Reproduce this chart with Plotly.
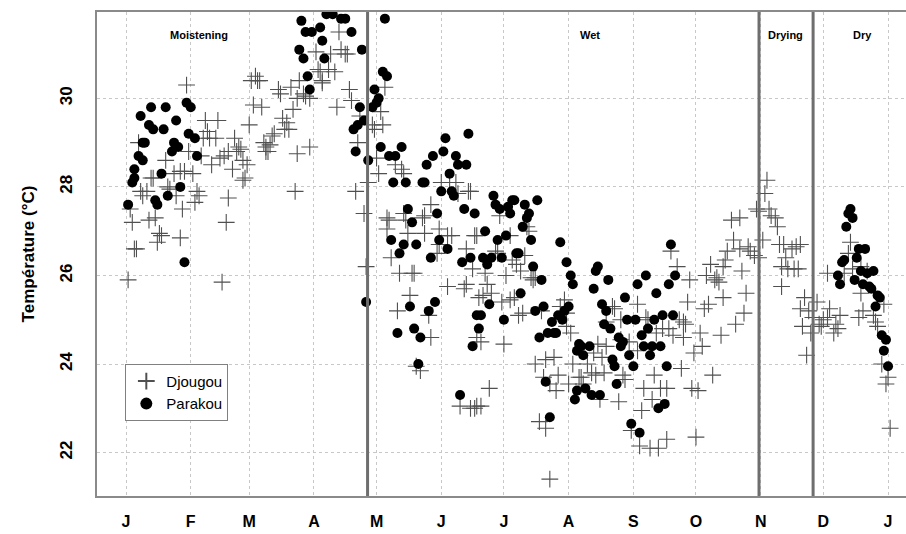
import plotly.graph_objects as go

# day of year (0 = 1 January) and daily temperature (degC)
djougou_day = [
    1, 2, 3, 4, 5, 6, 7, 8, 10, 11, 12, 13, 14, 15, 16, 17, 19, 20, 21, 23, 24, 26, 26, 27, 28,
    29, 30, 32, 33, 34, 35, 36, 37, 38, 39, 40, 41, 43, 44, 45, 46, 47, 48, 49, 49, 51, 52, 53,
    54, 55, 56, 56, 57, 58, 59, 60, 61, 62, 63, 64, 65, 66, 67, 67, 68, 69, 70, 71, 73, 74, 75,
    76, 77, 78, 79, 80, 81, 82, 82, 83, 85, 86, 88, 88, 91, 92, 93, 94, 94, 97, 98, 100, 101,
    102, 103, 105, 106, 107, 108, 110, 111, 112, 114, 115, 116, 118, 119, 120, 121, 122, 123,
    124, 125, 125, 126, 127, 129, 130, 131, 132, 133, 133, 134, 135, 136, 137, 138, 139, 141,
    142, 143, 143, 145, 146, 146, 149, 150, 150, 151, 154, 154, 155, 156, 158, 159, 160, 162,
    163, 163, 164, 165, 165, 166, 167, 167, 168, 168, 168, 169, 170, 170, 171, 172, 173, 174,
    175, 177, 178, 179, 180, 181, 182, 184, 184, 185, 186, 187, 188, 189, 190, 191, 192, 193,
    194, 195, 196, 196, 198, 199, 200, 201, 201, 203, 203, 205, 206, 207, 208, 210, 211, 211,
    212, 213, 214, 217, 218, 219, 221, 223, 224, 225, 226, 227, 228, 229, 230, 230, 233, 234,
    236, 237, 237, 238, 239, 241, 242, 245, 245, 246, 247, 248, 249, 250, 251, 252, 253, 254,
    255, 256, 257, 259, 259, 260, 261, 262, 264, 265, 266, 267, 267, 268, 269, 270, 271, 272,
    273, 274, 275, 276, 277, 278, 279, 280, 281, 282, 283, 284, 285, 286, 286, 287, 288, 290,
    291, 292, 294, 294, 295, 296, 297, 298, 299, 301, 302, 303, 303, 305, 306, 307, 308, 309,
    311, 312, 313, 314, 314, 315, 316, 317, 319, 320, 321, 322, 323, 323, 324, 325, 326, 327,
    328, 329, 331, 332, 333, 334, 336, 336, 337, 339, 340, 341, 342, 344, 346, 347, 348, 351,
    352, 352, 353, 355, 358, 359, 360, 362, 363, 364, 365, 366,
]
djougou_temp = [
    25.9, 27.5, 27.2, 26.6, 26.6, 29.0, 27.9, 27.8, 27.9, 27.25, 28.2, 28.2, 27.3, 26.75, 26.95,
    26.9, 28.6, 28.0, 27.95, 28.3, 27.8, 28.35, 26.85, 27.5, 28.35,
    30.3, 28.8, 28.3, 27.65, 27.9, 27.8, 28.7, 29.1, 29.5, 29.25, 29.1, 28.5, 29.1, 29.5, 28.65,
    25.85, 28.7, 27.2, 28.8, 27.75, 28.4, 29.1, 28.8,
    28.9, 28.85, 28.6, 28.15, 28.2, 28.5, 29.4, 30.4, 29.85, 30.5, 30.4, 30.4, 29.8, 29.0, 28.9,
    28.8, 28.8, 28.95, 29.15, 29.2, 30.2, 30.1, 29.55,
    29.3, 29.45, 29.3, 30.25, 29.75, 27.9, 28.75, 30.0, 30.4, 30.1, 30.05, 30.0, 28.9, 31.05,
    30.65, 30.6, 30.4, 30.35, 30.65, 31.0, 30.6, 29.8,
    31.5, 31.1, 31.0, 31.0, 30.2, 29.95, 27.9, 29.0, 29.6, 27.4, 26.2, 28.1, 29.4, 29.3, 28.65,
    28.3, 29.7, 29.4,
    30.25, 27.3, 27.05, 27.25, 26.4, 28.5, 25.2, 26.05, 28.4, 28.3, 27.4, 27.25, 26.95, 25.55,
    26.05, 26.05, 23.95, 23.85,
    27.3, 27.35, 26.95, 25.1, 27.6, 24.6, 26.5, 26.7, 27.05, 28.1, 26.9, 25.75, 28.1, 26.9,
    28.1, 27.85, 23.05, 25.7,
    25.8, 26.6, 27.9, 27.9, 23.0, 26.15, 26.9, 23.0, 26.9, 24.6, 23.05, 25.5, 24.5, 23.05, 25.55,
    26.05, 25.8, 23.45,
    25.6, 26.55, 26.5, 27.35, 25.4, 24.45, 26.0, 26.9, 25.45, 26.35, 25.5, 26.25, 25.1, 26.1,
    25.15, 26.45, 27.1, 27.0,
    25.95, 25.9, 25.95, 24.0, 22.7, 25.2, 23.7, 24.1, 22.55, 23.55, 21.4, 24.15, 23.4, 23.75,
    25.3, 25.45, 25.15, 24.85,
    23.55, 24.7, 24.0, 23.7, 23.7, 23.55, 24.0, 23.8, 24.25, 23.75, 24.45, 23.2, 24.15, 23.8,
    24.95, 24.4, 25.3, 25.25,
    23.15, 25.0, 24.55, 23.75, 23.65, 24.5, 22.5, 25.35, 24.3, 22.15, 22.95, 23.45, 25.05, 25.0,
    22.1, 23.2, 23.75, 24.7,
    22.1, 23.45, 24.8, 23.45, 22.3, 24.8, 26.55, 24.65, 26.2, 25.0, 23.9, 24.95, 24.6, 24.9,
    25.4, 25.9, 23.45, 24.25,
    22.35, 23.4, 24.7, 24.4, 25.25, 26.0, 25.35, 26.25, 23.75, 25.9, 25.95, 25.85, 24.65, 26.2,
    25.5, 26.35, 26.55, 27.25,
    26.8, 24.9, 27.3, 26.6, 26.1, 25.15, 25.6, 26.65, 26.55, 26.45, 27.5, 27.45, 26.4, 26.8,
    27.85, 28.15, 27.5, 27.35,
    27.3, 27.1, 26.7, 26.2, 25.75, 26.7, 26.4, 26.15, 26.6, 26.15, 26.65, 26.15, 26.7, 25.25,
    24.85, 25.5, 24.2, 25.2,
    24.7, 25.05, 25.4, 24.9, 24.85, 25.0, 25.05, 26.05, 25.25, 24.7, 24.9, 24.8, 25.1, 26.05,
    26.5, 26.75, 26.15, 25.05,
    25.6, 26.2, 25.2, 26.1, 25.1, 24.95, 24.85, 24.0, 25.35, 23.55, 23.7, 22.55,
]

parakou_day = [
    1, 3, 4, 4, 6, 7, 8, 8, 9, 11, 12, 13, 14, 15, 17, 18, 19, 20, 22, 23, 24, 25, 26, 28, 29,
    30, 31, 33, 34,
    83, 84, 85, 86, 87, 88, 89, 93, 94, 95, 96, 99, 103, 105, 108, 109, 110, 111, 112, 113, 114,
    115, 116, 118, 119, 120, 121, 122, 123, 124, 125, 126, 127, 128, 129, 130, 131, 132, 133,
    134, 135, 136, 137, 138, 139, 140, 141, 142, 143, 144, 145, 146, 147, 148, 149, 150, 151,
    152, 153, 154, 155, 156, 157, 158, 159, 160, 161, 162, 163, 164, 165, 166, 167, 168, 169,
    170, 171, 172, 173, 174, 175, 176, 177, 178, 179, 180, 181, 182, 183, 184, 185, 186, 187,
    188, 189, 190, 191, 192, 193, 194, 195, 196, 197, 198, 199, 200, 201, 202, 203, 204, 205,
    206, 207, 208, 209, 210, 211, 212, 213, 214, 215, 216, 216, 217, 218, 219, 220, 222, 223,
    224, 225, 226, 227, 228, 229, 230, 231, 232, 233, 234, 235, 236, 237, 238, 239, 240, 241,
    242, 243, 244, 245, 246, 247, 248, 249, 250, 251, 252, 253, 254, 255, 256, 257, 258, 259,
    260, 261, 262, 263,
    341, 342, 343, 344, 345, 346, 347, 348, 349, 350, 351, 352, 353, 354, 355, 356, 357, 358,
    359, 360, 361, 362, 363, 364, 365,
]
parakou_temp = [
    27.6, 28.1, 28.4, 28.2, 28.7, 29.6, 29.0, 28.6, 29.0, 29.4, 29.8, 29.3, 27.7, 27.6, 28.3,
    29.3, 29.8, 27.8, 28.8, 29.0, 29.5, 28.9, 28.0, 26.3, 29.9, 29.2, 29.8, 29.1, 28.7,
    31.1, 31.75, 30.9, 31.5, 30.5, 30.2, 31.5, 31.6, 31.3, 30.9, 31.9, 31.9, 31.8, 31.8, 31.5,
    29.3, 28.8, 29.4, 29.8, 31.1, 29.5,
    25.4, 28.6, 29.8, 30.2, 29.9, 30.0, 28.9, 30.6, 31.8, 30.5, 28.7, 26.8, 28.1, 28.7, 24.7,
    26.5, 28.9, 26.7,
    28.1, 27.5, 25.3, 27.2, 24.8, 26.7, 24.0, 24.6, 28.1, 28.1, 28.5, 25.2, 26.4, 28.7, 25.4,
    27.4, 26.8, 27.9,
    28.8, 29.1, 26.6, 28.3, 27.9, 27.8, 28.7, 28.5, 23.3, 26.3, 27.5, 28.5, 29.2, 26.4, 24.4,
    27.4, 25.1, 24.8,
    25.1, 26.4, 27.0, 26.25, 25.35, 26.4, 27.8, 27.6, 26.8, 27.5, 26.4, 25.0, 26.9, 27.55, 27.4,
    27.7, 27.7, 26.5,
    26.5, 25.6, 27.1, 27.6, 27.3, 27.4, 26.8, 26.2, 25.2, 27.7, 24.6, 25.9, 25.3, 23.6, 24.7,
    22.8, 24.95, 24.7,
    24.7, 25.1, 26.75, 25.0, 25.2, 26.3, 25.3, 26.0, 25.8, 23.2, 23.4, 24.3, 24.45, 24.4, 24.2,
    23.45, 24.4, 23.3,
    25.7, 26.1, 26.2, 23.3, 25.35, 24.9, 25.2, 25.9, 24.8, 24.1, 23.95, 23.55, 24.6, 24.4, 24.5,
    25.5, 25.0, 24.2,
    22.65, 23.95, 25.0, 25.8, 22.45, 24.65, 24.4, 26.0, 24.8, 24.2, 24.4, 25.0, 25.6, 23.0, 24.4,
    25.1, 23.1, 23.95,
    25.8, 26.7, 25.1, 26.0,
    26.0, 25.8, 26.3, 26.35, 27.1, 27.4, 27.5, 27.3, 25.9, 26.4, 26.6, 26.1, 25.8, 26.6, 26.05,
    25.75, 25.7, 26.1, 25.3, 25.55, 25.5, 24.65, 24.3, 24.55, 23.95,
]

month_labels = ["J", "F", "M", "A", "M", "J", "J", "A", "S", "O", "N", "D", "J"]
month_start = [0, 31, 59, 90, 120, 151, 181, 212, 243, 273, 304, 334, 365]

season_names = ["Moistening", "Wet", "Drying", "Dry"]
season_label_day = [35, 222, 316, 353]
season_bounds = [115.7, 303.2, 329.1]

font = "Arial, Liberation Sans, sans-serif"

fig = go.Figure()

fig.add_trace(go.Scatter(
    x=djougou_day, y=djougou_temp, mode="markers", name="Djougou",
    marker=dict(symbol="cross-thin", size=12, color="#505050",
                line=dict(width=1.1, color="#505050")),
))
fig.add_trace(go.Scatter(
    x=parakou_day, y=parakou_temp, mode="markers", name="Parakou",
    marker=dict(symbol="circle", size=10, color="black"),
))

# season boundaries
for b in season_bounds:
    fig.add_shape(type="line", x0=b, x1=b, xref="x", y0=0, y1=1, yref="paper",
                  line=dict(color="#6e6e6e", width=3))

for name, d in zip(season_names, season_label_day):
    fig.add_annotation(x=d, y=31.42, text=name, showarrow=False,
                       font=dict(family=font, size=11, color="black", weight="bold"))

fig.update_layout(
    width=906, height=534,
    margin=dict(l=97, r=0, t=12, b=38),
    paper_bgcolor="white", plot_bgcolor="white",
    font=dict(family=font, color="black"),
    showlegend=True,
    legend=dict(x=0.035, y=0.273, xanchor="left", yanchor="top",
                bgcolor="white", bordercolor="#808080", borderwidth=1,
                font=dict(size=15), tracegroupgap=0, itemsizing="constant"),
)

fig.update_xaxes(
    range=[-13.9, 373.6], tickvals=month_start, ticktext=month_labels,
    tickfont=dict(size=16, weight="bold"), ticks="", ticklabelstandoff=10,
    automargin=False,
    showgrid=True, gridcolor="#c8c8c8", griddash="dot", gridwidth=1,
    showline=True, linecolor="#8a8a8a", linewidth=2, mirror=True, zeroline=False,
)
fig.update_yaxes(
    range=[21.02, 31.95], tickvals=[22, 24, 26, 28, 30], tickangle=-90,
    tickfont=dict(size=17, weight="bold"), ticks="", ticklabelstandoff=16,
    automargin=False,
    title=dict(text="Température (°C)", font=dict(size=17, weight="bold"), standoff=18),
    showgrid=True, gridcolor="#c8c8c8", griddash="dot", gridwidth=1,
    showline=True, linecolor="#8a8a8a", linewidth=2, zeroline=False,
)

# drop the page's default body margin so the figure sits at the window origin
fig.write_html("out.html", config={"displayModeBar": False},
               post_script="document.body.style.margin='0';")
